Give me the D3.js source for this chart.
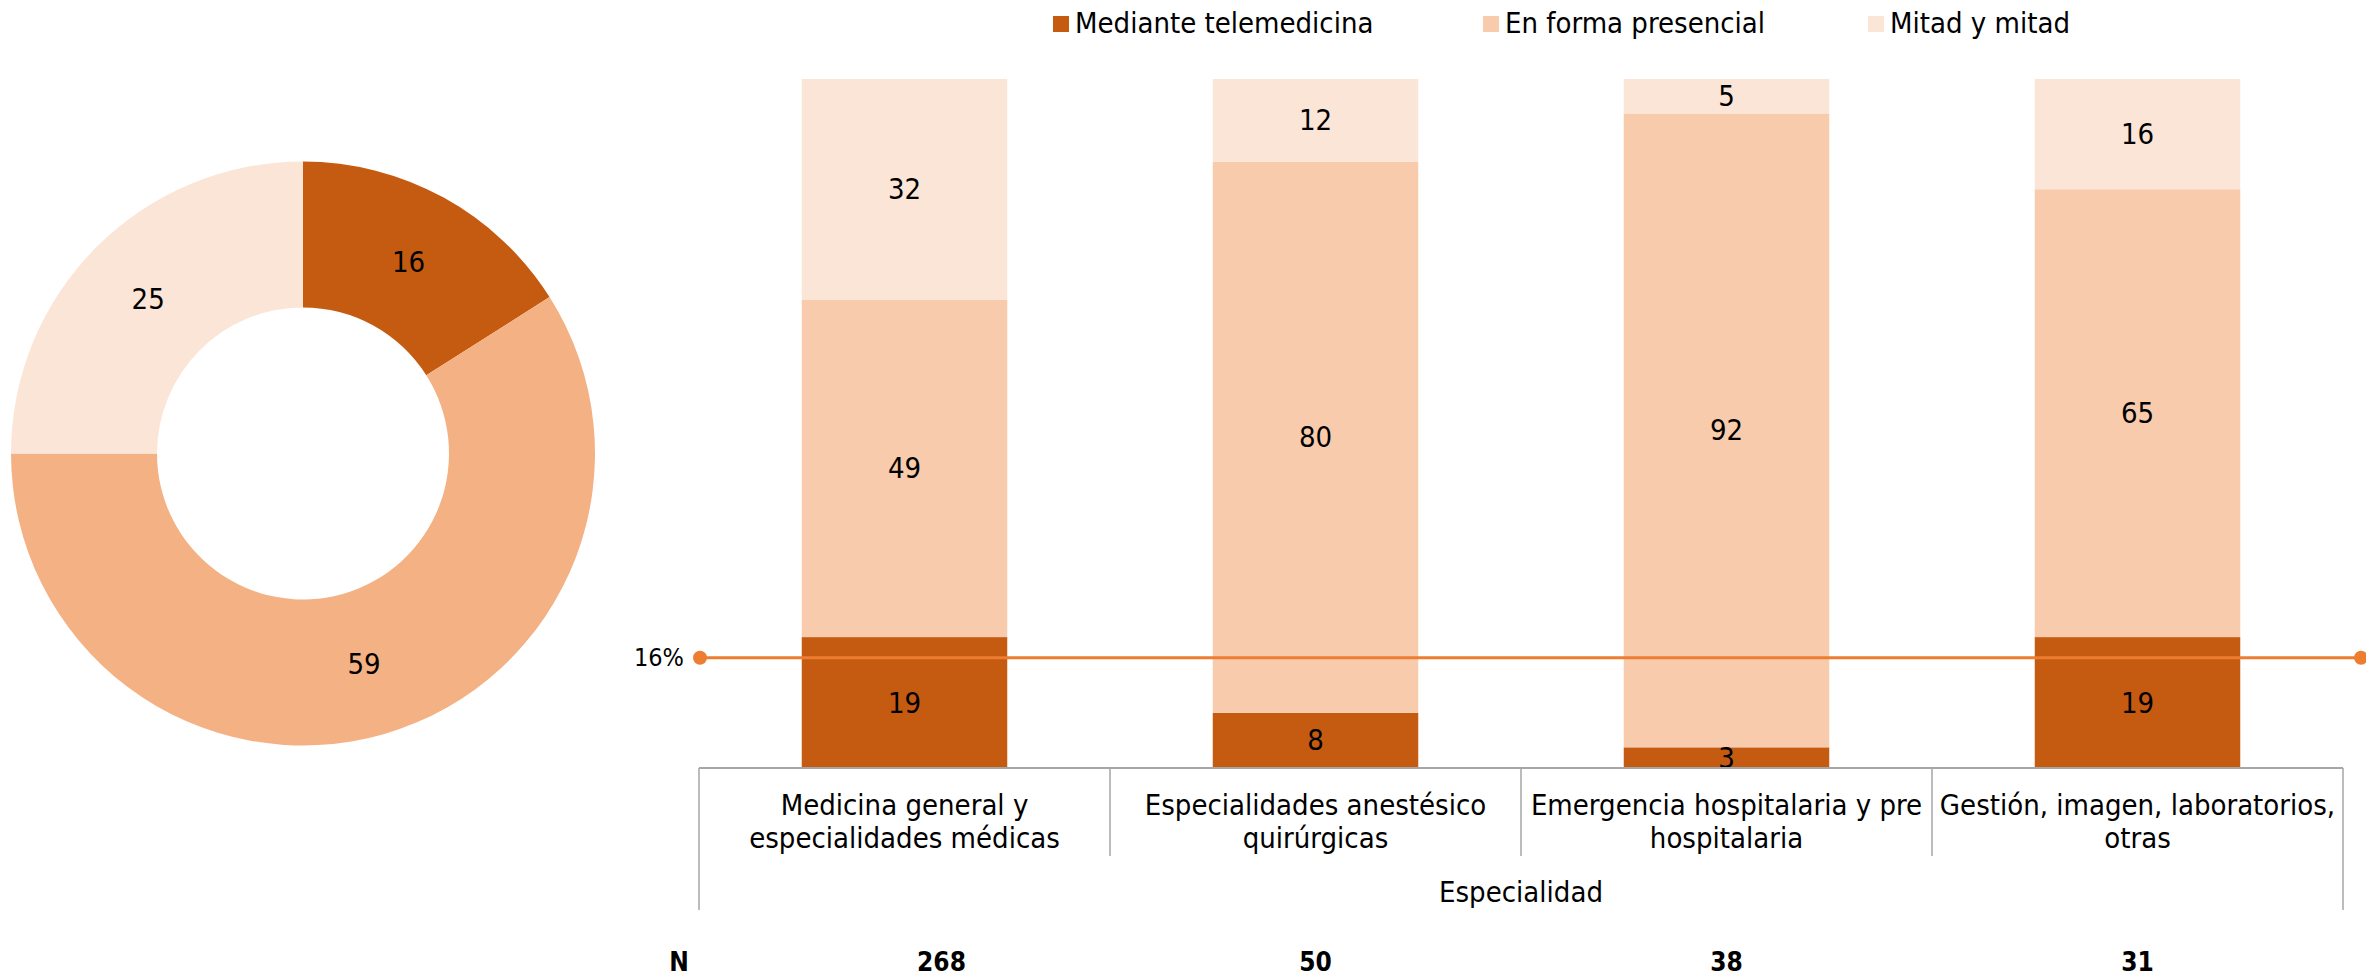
<!DOCTYPE html>
<html>
<head>
<meta charset="utf-8">
<script src="https://cdn.jsdelivr.net/npm/d3@7"></script>
<style>
  html, body { margin: 0; padding: 0; background: #fff; }
  svg text { font-family: "DejaVu Sans Condensed", "Liberation Sans Narrow", "DejaVu Sans", sans-serif; fill: #000; }
</style>
</head>
<body>
<svg id="chart" width="2366" height="978"></svg>
<script>
// ---- Data ----
const seriesNames = ["Mediante telemedicina", "En forma presencial", "Mitad y mitad"];
const donutValues = [16, 59, 25];
const categories = [
  ["Medicina general y", "especialidades médicas"],
  ["Especialidades anestésico", "quirúrgicas"],
  ["Emergencia hospitalaria y pre", "hospitalaria"],
  ["Gestión, imagen, laboratorios,", "otras"]
];
const telemedicina = [19, 8, 3, 19];
const presencial = [49, 80, 92, 65];
const mitad = [32, 12, 5, 16];
const nValues = [268, 50, 38, 31];
const averageLine = 16;
const axisTitle = "Especialidad";

// ---- Styles ----
const barColors = ["#C55A11", "#F8CBAD", "#FBE5D6"];
const donutColors = ["#C55A11", "#F4B183", "#FBE5D6"];
const lineColor = "#ED7D31";
const axisColor = "#A6A6A6";
const fs = 29;

const svg = d3.select("#chart");

// ---- Donut ----
const cx = 303, cy = 453.5, rOuter = 292, rInner = 146;
const pie = d3.pie().sort(null).value(d => d);
const arc = d3.arc().innerRadius(rInner).outerRadius(rOuter);
const gD = svg.append("g").attr("transform", `translate(${cx},${cy})`);
const arcs = pie(donutValues);
gD.selectAll("path").data(arcs).join("path")
  .attr("d", arc).attr("fill", (d, i) => donutColors[i]);
gD.selectAll("text").data(arcs).join("text")
  .attr("transform", d => `translate(${arc.centroid(d)})`)
  .attr("text-anchor", "middle").attr("dominant-baseline", "central")
  .attr("font-size", fs).text(d => d.data);

// ---- Bars ----
const x = d3.scaleBand().domain(d3.range(categories.length)).range([699, 2343]).paddingInner(0).paddingOuter(0);
const y = d3.scaleLinear().domain([0, 100]).range([768, 79]);
const barW = x.bandwidth() * 0.5;

const rows = categories.map((c, i) => ({ i, v: [telemedicina[i], presencial[i], mitad[i]] }));
const stack = d3.stack().keys([0, 1, 2]).value((d, k) => d.v[k]);
const stacked = stack(rows);

const gB = svg.append("g");
stacked.forEach((layer, k) => {
  gB.selectAll(null).data(layer).join("rect")
    .attr("x", d => x(d.data.i) + (x.bandwidth() - barW) / 2)
    .attr("y", d => y(d[1]))
    .attr("width", barW)
    .attr("height", d => y(d[0]) - y(d[1]))
    .attr("fill", barColors[k]);
});
stacked.forEach((layer, k) => {
  gB.selectAll(null).data(layer).join("text")
    .attr("x", d => x(d.data.i) + x.bandwidth() / 2)
    .attr("y", d => (y(d[0]) + y(d[1])) / 2)
    .attr("text-anchor", "middle").attr("dominant-baseline", "central")
    .attr("font-size", fs).text(d => d.data.v[k]);
});

// ---- Axis ----
const gA = svg.append("g");
const [x0, x1] = x.range();
gA.append("line").attr("x1", x0).attr("x2", x1).attr("y1", y(0)).attr("y2", y(0))
  .attr("stroke", axisColor).attr("stroke-width", 2);
const bounds = d3.range(categories.length + 1).map(i => i < categories.length ? x(i) : x1);
gA.selectAll(null).data(bounds).join("line")
  .attr("x1", d => d).attr("x2", d => d)
  .attr("y1", y(0))
  .attr("y2", (d, i) => (i === 0 || i === bounds.length - 1) ? 910 : 856)
  .attr("stroke", axisColor).attr("stroke-width", 1.5);
categories.forEach((lines, i) => {
  const t = gA.append("text").attr("text-anchor", "middle").attr("font-size", fs);
  lines.forEach((l, j) => {
    t.append("tspan").attr("x", x(i) + x.bandwidth() / 2).attr("y", 815 + j * 33).text(l);
  });
});
gA.append("text").attr("x", (x0 + x1) / 2).attr("y", 902)
  .attr("text-anchor", "middle")
  .attr("font-size", fs).text(axisTitle);

// ---- Average line ----
const lx0 = x0 + 1, lx1 = 2361;
svg.append("line").attr("x1", lx0).attr("x2", lx1)
  .attr("y1", y(averageLine)).attr("y2", y(averageLine))
  .attr("stroke", lineColor).attr("stroke-width", 3);
svg.selectAll(null).data([lx0, lx1]).join("circle")
  .attr("cx", d => d).attr("cy", y(averageLine)).attr("r", 7).attr("fill", lineColor);
svg.append("text").attr("x", lx0 - 16).attr("y", y(averageLine))
  .attr("text-anchor", "end").attr("dominant-baseline", "central")
  .attr("font-size", 25).text(averageLine + "%");

// ---- N row ----
const nFs = 26;
svg.append("text").attr("x", 679).attr("y", 971)
  .attr("text-anchor", "middle")
  .attr("font-size", nFs).attr("font-weight", "bold").text("N");
svg.selectAll(null).data(nValues).join("text")
  .attr("x", (d, i) => x(i) + x.bandwidth() / 2 + (i === 0 ? 37 : 0))
  .attr("y", 971)
  .attr("text-anchor", "middle")
  .attr("font-size", nFs).attr("font-weight", "bold").text(d => d);

// ---- Legend ----
const legendX = [1053, 1483, 1868];
const gL = svg.append("g");
seriesNames.forEach((name, k) => {
  gL.append("rect").attr("x", legendX[k]).attr("y", 16).attr("width", 16).attr("height", 16)
    .attr("fill", barColors[k]);
  gL.append("text").attr("x", legendX[k] + 22).attr("y", 33)
    .attr("font-size", fs).text(name);
});
</script>
</body>
</html>
